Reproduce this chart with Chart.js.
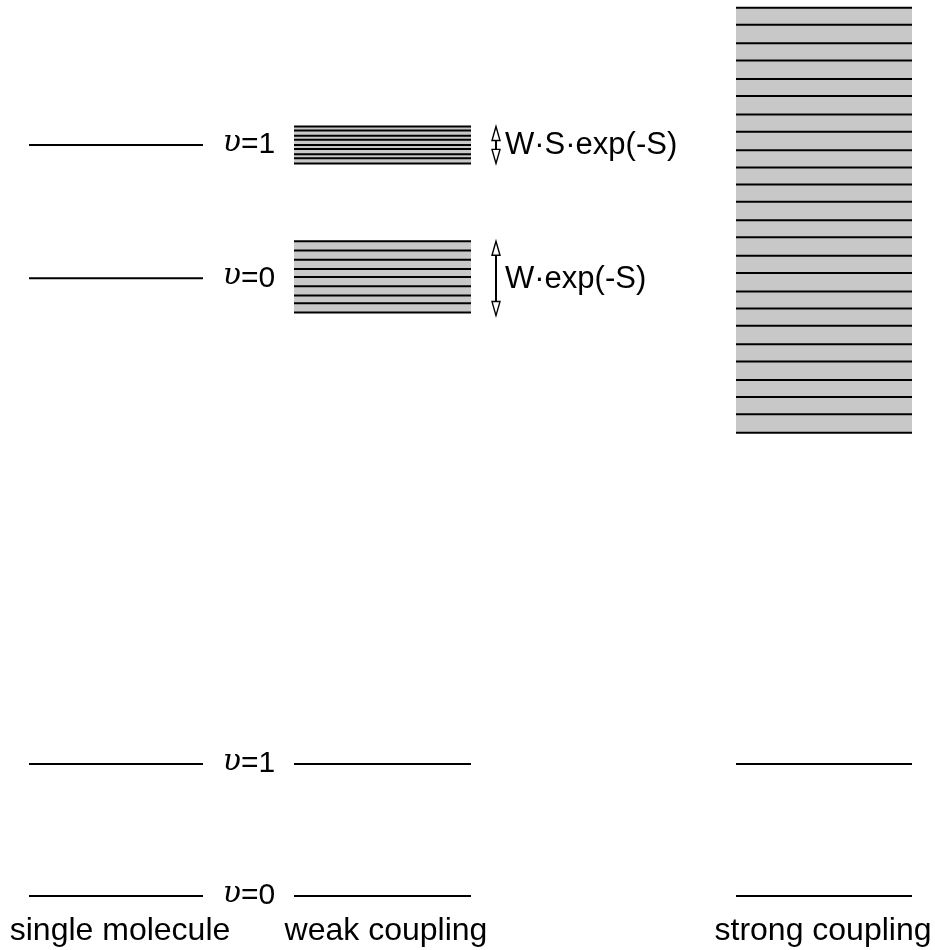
<!DOCTYPE html>
<html>
<head>
<meta charset="utf-8">
<script src="https://cdn.jsdelivr.net/npm/chart.js@4"></script>
<style>
  html, body { margin: 0; padding: 0; background: #fff; }
  #wrap { width: 935px; height: 950px; }
</style>
</head>
<body>
<div id="wrap"><canvas id="levels"></canvas></div>
<script>
// energies in units of the ground-state vibrational quantum
const columnNames = ["single molecule", "weak coupling", "strong coupling"];
const groundLevels = [0, 1];            // v=0, v=1 of the ground state
const excitedLevels = [4.68, 5.69];     // v=0, v=1 of the excited state (single molecule)
const vibLabels = ["0", "1"];
const weakBandV0 = [4.96, 4.89, 4.82, 4.75, 4.69, 4.62, 4.55, 4.49, 4.42];
const weakBandV1 = [5.83, 5.80, 5.76, 5.73, 5.69, 5.66, 5.62, 5.59, 5.55];
const strongBand = [6.73, 6.60, 6.46, 6.33, 6.19, 6.06, 5.92, 5.79, 5.65, 5.52, 5.39, 5.26, 5.12,
                    4.99, 4.85, 4.72, 4.58, 4.45, 4.32, 4.18, 4.05, 3.91, 3.78, 3.65, 3.51];
const bandWidthLabels = ["W\u00b7exp(-S)", "W\u00b7S\u00b7exp(-S)"];

// horizontal extent of each column (x units)
const colSpan = [[29, 203], [294, 471], [736, 912]];
const colLabelX = [120, 386, 823];
const vibLabelX = 249;
const arrowX = 496;
const bandGray = "#c8c8c8";
const font = '"Liberation Sans", Arial, sans-serif';

const datasets = [];
function level(span, e, w) {
  datasets.push({
    data: [{x: span[0], y: e}, {x: span[1], y: e}],
    borderColor: "#000", borderWidth: w || 2, pointRadius: 0, fill: false, order: 0
  });
}
function band(span, lines) {
  const top = Math.max(...lines), bot = Math.min(...lines);
  datasets.push({
    data: [{x: span[0], y: top}, {x: span[1], y: top}],
    borderWidth: 0, pointRadius: 0, backgroundColor: bandGray,
    fill: {value: bot}, order: 10
  });
  lines.forEach(e => level(span, e, 2));
}

groundLevels.forEach(e => colSpan.forEach(s => level(s, e)));
excitedLevels.forEach(e => level(colSpan[0], e));
band(colSpan[1], weakBandV0);
band(colSpan[1], weakBandV1);
band(colSpan[2], strongBand);

function arrow(ctx, x, y0, y1, head) {
  ctx.save();
  ctx.strokeStyle = "#000";
  ctx.lineWidth = 2;
  ctx.beginPath();
  ctx.moveTo(x, y0 + head);
  ctx.lineTo(x, y1 - head);
  ctx.stroke();
  ctx.fillStyle = "#fff";
  ctx.lineWidth = 1.4;
  [[y0, 1], [y1, -1]].forEach(([y, d]) => {
    ctx.beginPath();
    ctx.moveTo(x, y);
    ctx.lineTo(x - 4, y + d * head);
    ctx.lineTo(x + 4, y + d * head);
    ctx.closePath();
    ctx.fill();
    ctx.stroke();
  });
  ctx.restore();
}

function vibLabel(ctx, cx, y, n) {
  const f1 = 'italic 30px "DejaVu Serif", serif';
  const f2 = '30px ' + font;
  ctx.font = f1;
  const w1 = ctx.measureText("\u03c5").width;
  ctx.font = f2;
  const w2 = ctx.measureText("=" + n).width;
  let x = cx - (w1 + w2) / 2;
  ctx.textAlign = "left";
  ctx.textBaseline = "middle";
  ctx.font = f1;
  ctx.fillText("\u03c5", x, y - 2);
  ctx.font = f2;
  ctx.fillText("=" + n, x + w1, y);
}

const annotations = {
  id: "annotations",
  afterDatasetsDraw(chart) {
    const ctx = chart.ctx, xs = chart.scales.x, ys = chart.scales.y;
    ctx.save();
    ctx.fillStyle = "#000";
    groundLevels.forEach((e, i) => vibLabel(ctx, xs.getPixelForValue(vibLabelX), ys.getPixelForValue(e), vibLabels[i]));
    excitedLevels.forEach((e, i) => vibLabel(ctx, xs.getPixelForValue(vibLabelX), ys.getPixelForValue(e), vibLabels[i]));

    [weakBandV0, weakBandV1].forEach((b, i) => {
      const yt = ys.getPixelForValue(Math.max(...b));
      const yb = ys.getPixelForValue(Math.min(...b));
      arrow(ctx, xs.getPixelForValue(arrowX), yt, yb + (i === 0 ? 3 : 0), 14);
      ctx.fillStyle = "#000";
      ctx.font = "31px " + font;
      ctx.textAlign = "left";
      ctx.textBaseline = "middle";
      ctx.fillText(bandWidthLabels[i], xs.getPixelForValue(arrowX) + 9, ys.getPixelForValue(excitedLevels[i]) + 1);
    });

    ctx.font = "32px " + font;
    ctx.textAlign = "center";
    ctx.textBaseline = "alphabetic";
    columnNames.forEach((name, i) => ctx.fillText(name, xs.getPixelForValue(colLabelX[i]), ys.getPixelForValue(-0.33)));
    ctx.restore();
  }
};

new Chart(document.getElementById("levels"), {
  type: "line",
  data: {datasets: datasets},
  options: {
    responsive: true,
    maintainAspectRatio: false,
    animation: false,
    layout: {padding: 0},
    plugins: {legend: {display: false}, tooltip: {enabled: false}},
    scales: {
      x: {type: "linear", display: false, min: 0, max: 935},
      y: {type: "linear", display: false, min: -0.409, max: 6.788}
    }
  },
  plugins: [annotations]
});
</script>
</body>
</html>
